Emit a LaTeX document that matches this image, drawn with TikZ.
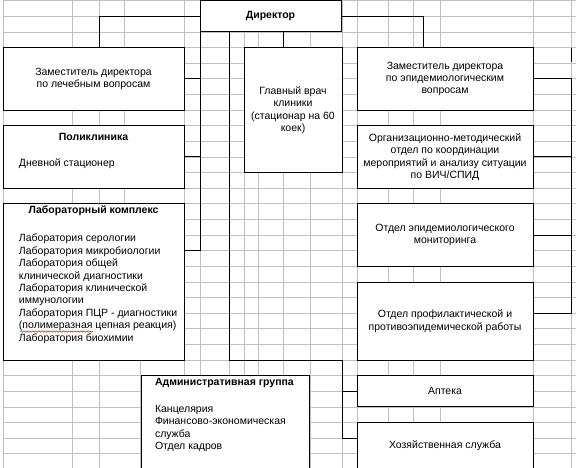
\documentclass[tikz,border=0pt]{standalone}
\usepackage{fontspec}
\setmainfont{Liberation Sans}
\usetikzlibrary{decorations.pathmorphing}
\definecolor{gridgray}{RGB}{192,192,192}
\definecolor{spellred}{RGB}{230,40,40}
\newcommand{\orgfs}{\fontsize{10.5}{12.4}\selectfont}
\begin{document}
\begin{tikzpicture}[x=1pt,y=-1pt,
  box/.style={draw=black, line width=1pt, fill=white, rectangle, inner sep=0pt, outer sep=0pt, align=center, font=\orgfs},
  txt/.style={inner sep=0pt, outer sep=0pt, align=left, font=\orgfs},
  ttl/.style={inner sep=0pt, outer sep=0pt, font=\orgfs\bfseries},
  conn/.style={draw=black, line width=1pt},
  gridln/.style={draw=gridgray, line width=0.8pt}]
\useasboundingbox (0,0) rectangle (576,468);
\clip (0,0) rectangle (576,468);
% spreadsheet grid
\foreach \k in {0,...,29} \draw[gridln] (3,{0.8+15.62*\k}) -- (576,{0.8+15.62*\k});
\foreach \x in {3,72,99,184,200,229,244,258,283,310,342,357,388,413,440,533,571} \draw[gridln] (\x,0) -- (\x,468);
\draw[gridln] (124,0) -- (124,360.1);
\draw[gridln] (140,360.1) -- (140,468);
% boxes
\node[box, minimum width=141, minimum height=31.2] (dir) at (270.5,16.4) {\bfseries Директор};
\node[box, minimum width=181, minimum height=62.4] (dep) at (93.5,78.9) {Заместитель директора\\по лечебным вопросам};
\node[box, minimum width=181, minimum height=62.4] (poly) at (93.5,157) {};
\node[box, minimum width=181, minimum height=156.2] (lab) at (93.5,282) {};
\node[box, minimum width=98, minimum height=124.9] (doc) at (293,110.15) {Главный врач\\клиники\\(стационар на 60\\коек)};
\node[box, minimum width=176, minimum height=62.4] (epi) at (445,78.9) {Заместитель директора\\по эпидемиологическим\\вопросам};
\node[box, minimum width=176, minimum height=62.4] (org) at (445,157) {Организационно-методический\\отдел по координации\\мероприятий и анализу ситуации\\по ВИЧ/СПИД};
\node[box, minimum width=176, minimum height=62.4] (mon) at (445,235.1) {Отдел эпидемиологического\\мониторинга};
\node[box, minimum width=176, minimum height=78.1] (pro) at (445,321.05) {Отдел профилактической и\\противоэпидемической работы};
\node[box, minimum width=176, minimum height=31.2] (apt) at (445,391.3) {Аптека};
\node[box, minimum width=176, minimum height=77.5] (hoz) at (445,461.25) {};
\node[box, minimum width=168, minimum height=124.3] (adm) at (225,437.85) {};
% texts inside boxes
\node[ttl] (polyT) at (93.5,137) {Поликлиника};
\node[txt, anchor=west] (polyL) at (19,164) {Дневной стационер};
\node[ttl] (labT) at (93.5,211) {Лабораторный комплекс};
\node[txt, anchor=west] (labL) at (19,288.7) {Лаборатория серологии\\Лаборатория микробиологии\\Лаборатория общей\\клинической диагностики\\Лаборатория клинической\\иммунологии\\Лаборатория ПЦР - диагностики\\(полимеразная цепная реакция)\\Лаборатория биохимии};
\node[ttl, anchor=west] (admT) at (155,383) {Административная группа};
\node[txt, anchor=west] (admL) at (155,428.5) {Канцелярия\\Финансово-экономическая\\служба\\Отдел кадров};
\node[txt, align=center] (hozT) at (445,446) {Хозяйственная служба};
\draw[spellred, line width=0.6pt, decorate, decoration={snake, amplitude=0.7pt, segment length=3pt}] (20,331.5) -- (93,331.5);
% connectors
\coordinate (jD) at (99,16.4);
\coordinate (jE) at (423,16.4);
\coordinate (jL) at (200,250.7);
\coordinate (jM) at (283,0);
\coordinate (jC) at (229,360.1);
\coordinate (jC2) at (342,360.1);
\coordinate (jH) at (342,438.2);
\coordinate (jR) at (571,313.2);
\coordinate (tk1) at (571,47.7);
\coordinate (tk2) at (571,62);
\draw[conn] (dir.west) -- (jD) -- (jD |- dep.north);
\draw[conn] (dir.east) -- (jE) -- (jE |- epi.north);
\draw[conn] (dir.south west) -- (jL) -- (jL -| lab.east);
\draw[conn] (dep.east) -- (dep.east -| jL);
\draw[conn] (poly.east) -- (poly.east -| jL);
\draw[conn] (dir.south -| jM) -- (doc.north -| jM);
\draw[conn] (dir.south -| jC) -- (jC) -- (jC2) -- (jH) -- (jH -| hoz.west);
\draw[conn] (apt.west) -- (apt.west -| jC2);
\draw[conn] (epi.east) -- (epi.east -| jR) -- (jR) -- (jR -| pro.east);
\draw[conn] (org.east) -- (org.east -| jR);
\draw[conn] (mon.east) -- (mon.east -| jR);
\draw[conn] (tk1) -- (tk2);
\end{tikzpicture}
\end{document}
